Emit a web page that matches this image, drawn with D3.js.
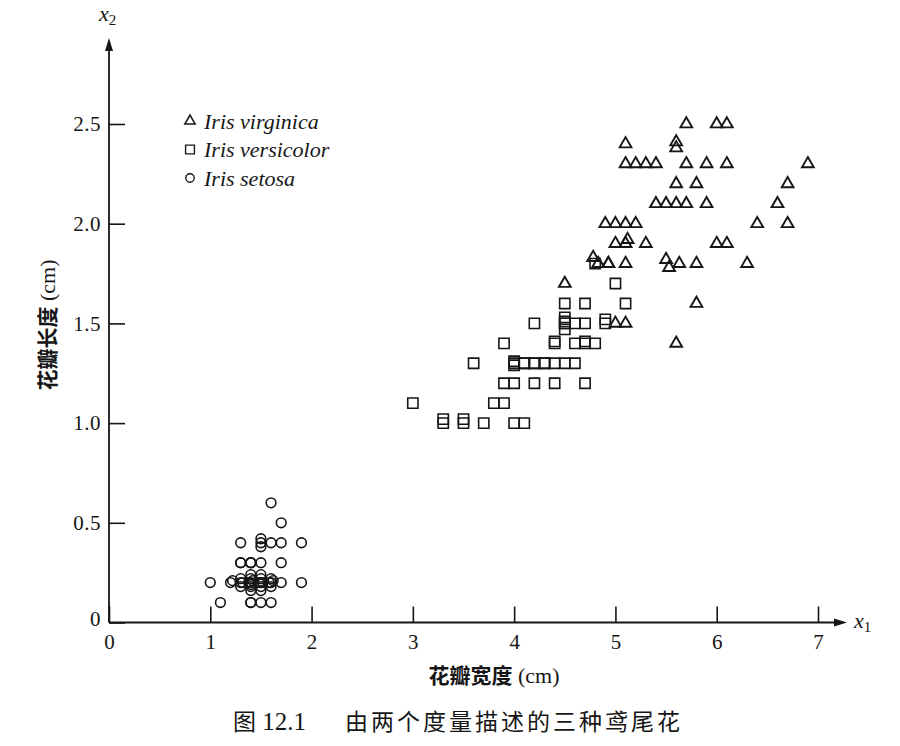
<!DOCTYPE html>
<html><head><meta charset="utf-8">
<script src="https://cdn.jsdelivr.net/npm/d3@7"></script>
<style>
body{margin:0;background:#fff;}
svg{display:block;}
</style></head><body>
<svg id="c" width="900" height="746"></svg>
<script>
// ---------- data ----------
const xTicks = [0, 1, 2, 3, 4, 5, 6, 7];
const yTicks = [0, 0.5, 1.0, 1.5, 2.0, 2.5];
const speciesNames = ["Iris virginica", "Iris versicolor", "Iris setosa"];
const xLabel = "花瓣宽度 (cm)";
const yLabel = "花瓣长度 (cm)";
const caption = ["图 12.1", "由两个度量描述的三种鸢尾花"];

// [x1, x2] pairs (small offsets where duplicates are drawn stacked)
const virginica = [
  [5.7,2.5],[6.0,2.5],[6.1,2.5],
  [5.1,2.4],[5.6,2.41],[5.6,2.38],
  [5.1,2.3],[5.2,2.3],[5.3,2.3],[5.4,2.3],[5.7,2.3],[5.9,2.3],[6.1,2.3],[6.9,2.3],
  [5.6,2.2],[5.8,2.2],[6.7,2.2],
  [5.4,2.1],[5.5,2.1],[5.6,2.1],[5.7,2.1],[5.9,2.1],[6.6,2.1],
  [4.9,2.0],[5.0,2.0],[5.1,2.0],[5.2,2.0],[6.4,2.0],[6.7,2.0],
  [5.0,1.9],[5.1,1.9],[5.12,1.92],[5.3,1.9],[6.0,1.9],[6.1,1.9],
  [4.78,1.83],[4.83,1.8],[4.93,1.8],[4.93,1.8],[5.1,1.8],[5.5,1.82],[5.53,1.78],[5.63,1.8],[5.8,1.8],[6.3,1.8],
  [4.5,1.7],
  [5.8,1.6],
  [5.0,1.5],[5.1,1.5],
  [5.6,1.4]
];
const versicolor = [
  [3.3,1.0],[3.3,1.02],[3.5,1.0],[3.5,1.02],[3.7,1.0],[4.0,1.0],[4.1,1.0],
  [3.0,1.1],[3.8,1.1],[3.9,1.1],
  [3.9,1.2],[4.0,1.2],[4.2,1.2],[4.4,1.2],[4.7,1.2],
  [3.6,1.3],[4.0,1.31],[4.0,1.29],[4.0,1.3],[4.1,1.3],[4.1,1.3],[4.2,1.3],[4.2,1.3],[4.3,1.3],[4.3,1.3],[4.4,1.3],[4.5,1.3],[4.6,1.3],
  [3.9,1.4],[4.4,1.4],[4.4,1.41],[4.6,1.4],[4.7,1.4],[4.7,1.41],[4.8,1.4],
  [4.2,1.5],[4.5,1.53],[4.5,1.5],[4.5,1.47],[4.5,1.5],[4.5,1.51],[4.6,1.5],[4.7,1.5],[4.9,1.5],[4.9,1.52],
  [4.5,1.6],[4.7,1.6],[5.1,1.6],
  [5.0,1.7],
  [4.8,1.8]
];
const setosa = [
  [1.0,0.2],[1.2,0.2],[1.22,0.21],[1.3,0.2],[1.3,0.22],[1.3,0.18],[1.32,0.2],
  [1.4,0.2],[1.4,0.22],[1.4,0.18],[1.4,0.24],[1.4,0.16],[1.38,0.2],[1.42,0.21],[1.4,0.19],
  [1.5,0.2],[1.5,0.22],[1.5,0.18],[1.5,0.24],[1.5,0.16],[1.48,0.2],[1.52,0.2],
  [1.6,0.2],[1.6,0.22],[1.6,0.18],[1.58,0.2],[1.62,0.21],[1.7,0.2],[1.9,0.2],
  [1.1,0.1],[1.4,0.1],[1.4,0.1],[1.5,0.1],[1.6,0.1],
  [1.3,0.3],[1.3,0.3],[1.4,0.3],[1.4,0.3],[1.4,0.3],[1.5,0.3],[1.7,0.3],
  [1.3,0.4],[1.5,0.42],[1.5,0.38],[1.5,0.4],[1.6,0.4],[1.7,0.4],[1.9,0.4],
  [1.7,0.5],
  [1.6,0.6]
];

// ---------- drawing ----------
const ink = "#161616";
const serif = "'Liberation Serif','DejaVu Serif',serif";
const cjk = "'Noto Sans CJK SC','Noto Sans CJK JP',sans-serif";

const svg = d3.select("#c");
svg.append("rect").attr("width",900).attr("height",746).attr("fill","#fff");

const x = d3.scaleLinear().domain([0, 7]).range([109, 818]);
const y = d3.scaleLinear().domain([0, 2.5]).range([622.5, 124]);

// x axis
const gx = svg.append("g").attr("transform", `translate(0,${y(0)})`)
  .call(d3.axisBottom(x).tickValues(xTicks).tickSize(-16).tickPadding(12).tickFormat(d3.format("d")));
gx.select(".domain").remove();
gx.selectAll("line").attr("stroke", ink).attr("stroke-width", 1.6);
gx.selectAll("text").attr("font-family", serif).attr("font-size", 21).attr("fill", ink);

// y axis
const gy = svg.append("g").attr("transform", `translate(${x(0)},0)`)
  .call(d3.axisLeft(y).tickValues(yTicks).tickSize(-16).tickPadding(8)
    .tickFormat(d => d === 0 ? "0" : d3.format(".1f")(d)));
gy.select(".domain").remove();
gy.selectAll("line").attr("stroke", ink).attr("stroke-width", 1.6);
gy.selectAll("text").attr("font-family", serif).attr("font-size", 21).attr("fill", ink)
  .attr("letter-spacing", 0.5);
gy.selectAll(".tick").filter(d => d === 0).select("text").attr("dy", "0.15em");

// axis lines with arrows
const xEnd = 847, yTop = 38;
svg.append("line").attr("x1", x(0)).attr("x2", xEnd - 8).attr("y1", y(0)).attr("y2", y(0))
  .attr("stroke", ink).attr("stroke-width", 1.8);
svg.append("path").attr("d", `M${xEnd},${y(0)} L${xEnd-13},${y(0)-4} L${xEnd-13},${y(0)+4} Z`).attr("fill", ink);
svg.append("line").attr("x1", x(0)).attr("x2", x(0)).attr("y1", y(0)).attr("y2", yTop + 8)
  .attr("stroke", ink).attr("stroke-width", 1.8);
svg.append("path").attr("d", `M${x(0)},${yTop} L${x(0)-4},${yTop+13} L${x(0)+4},${yTop+13} Z`).attr("fill", ink);

// axis variable names
const x2 = svg.append("text").attr("x", 99).attr("y", 21).attr("font-family", serif)
  .attr("font-size", 22).attr("font-style", "italic").attr("fill", ink);
x2.append("tspan").text("x");
x2.append("tspan").attr("font-size", 15).attr("font-style", "normal").attr("dy", 4).text("2");
const x1 = svg.append("text").attr("x", 854).attr("y", y(0) + 5).attr("font-family", serif)
  .attr("font-size", 22).attr("font-style", "italic").attr("fill", ink);
x1.append("tspan").text("x");
x1.append("tspan").attr("font-size", 15).attr("font-style", "normal").attr("dy", 4).text("1");

// axis titles
const xt = svg.append("text").attr("x", 494).attr("y", 683).attr("text-anchor", "middle")
  .attr("fill", ink).attr("font-size", 21);
xt.append("tspan").attr("font-family", cjk).attr("font-weight", 700).text(xLabel.split(" ")[0]);
xt.append("tspan").attr("font-family", serif).attr("font-size", 22).text(" " + xLabel.split(" ")[1]);

const yt = svg.append("text").attr("transform", "translate(55,325) rotate(-90)").attr("text-anchor", "middle")
  .attr("fill", ink).attr("font-size", 21);
yt.append("tspan").attr("font-family", cjk).attr("font-weight", 700).text(yLabel.split(" ")[0]);
yt.append("tspan").attr("font-family", serif).attr("font-size", 22).text(" " + yLabel.split(" ")[1]);

// caption
const cap = svg.append("text").attr("y", 730).attr("fill", ink).attr("font-size", 23);
cap.append("tspan").attr("x", 233).attr("font-family", cjk).text(caption[0].split(" ")[0]);
cap.append("tspan").attr("font-family", serif).attr("font-size", 25).text(" " + caption[0].split(" ")[1]);
cap.append("tspan").attr("x", 345).attr("font-family", cjk).attr("letter-spacing", 3).text(caption[1]);

// markers
const series = [
  {name: speciesNames[0], data: virginica, type: d3.symbolTriangle, size: 60, sw: 1.9},
  {name: speciesNames[1], data: versicolor, type: d3.symbolSquare, size: 105, sw: 1.6},
  {name: speciesNames[2], data: setosa, type: d3.symbolCircle, size: 74, sw: 1.6}
];
const marks = svg.append("g");
series.slice().reverse().forEach(s => {
  marks.append("g").selectAll("path").data(s.data).join("path")
    .attr("d", d3.symbol().type(s.type).size(s.size))
    .attr("transform", d => `translate(${x(d[0])},${y(d[1])})`)
    .attr("fill", "none").attr("stroke", ink).attr("stroke-width", s.sw);
});

// legend
const leg = svg.append("g").attr("transform", "translate(190,121)");
series.forEach((s, i) => {
  const row = leg.append("g").attr("transform", `translate(0,${i * 28.5})`);
  row.append("path").attr("d", d3.symbol().type(s.type).size(s.size * 0.75))
    .attr("fill", "none").attr("stroke", ink).attr("stroke-width", s.sw * 0.85);
  row.append("text").attr("x", 14).attr("dy", "0.35em").attr("font-family", serif)
    .attr("font-style", "italic").attr("font-size", 22).attr("fill", ink).text(s.name);
});
</script>
</body></html>
